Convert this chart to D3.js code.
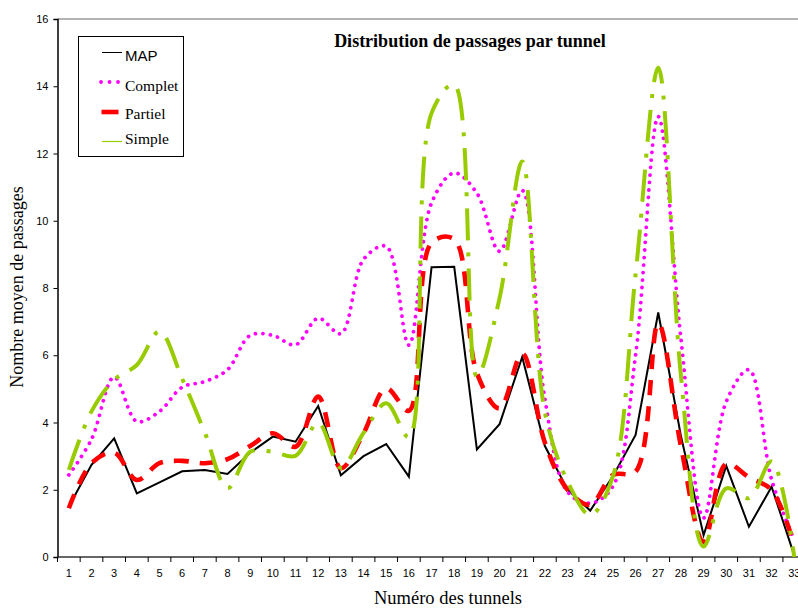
<!DOCTYPE html>
<html><head><meta charset="utf-8">
<script src="https://cdn.jsdelivr.net/npm/d3@7"></script>
<style>
html,body{margin:0;padding:0;background:#fff;}
svg{display:block;}
.tick text{font-family:"Liberation Sans",Arial,sans-serif;font-size:11px;fill:#000;}
</style></head>
<body><svg id="chart" width="798" height="610"></svg>
<script>
const categories = ["1","2","3","4","5","6","7","8","9","10","11","12","13","14","15","16","17","18","19","20","21","22","23","24","25","26","27","28","29","30","31","32","33"];
const mapValues = [1.5,2.74,3.53,1.89,2.22,2.55,2.59,2.47,3.1,3.58,3.43,4.49,2.43,3.0,3.36,2.39,8.62,8.63,3.2,3.95,5.95,3.3,2.0,1.38,2.4,3.63,7.27,3.6,0.65,2.71,0.9,2.09,0.05];
const completValues = [2.44,3.5,5.35,4.03,4.33,5.05,5.22,5.57,6.59,6.59,6.31,7.1,6.64,8.85,9.24,6.3,10.53,11.42,10.82,9.09,10.9,4.7,1.94,1.6,2.1,6.0,13.1,6.5,1.16,4.62,5.57,2.3,0.5];
const partielValues = [1.45,2.79,3.1,2.29,2.79,2.86,2.79,2.91,3.3,3.68,3.28,4.77,2.64,3.68,5.02,4.35,9.35,9.45,5.47,4.42,6.05,3.4,2.0,1.55,2.44,2.54,6.95,3.3,0.45,2.77,2.37,1.99,0.35];
const simpleValues = [2.59,4.33,5.27,5.71,6.71,5.3,3.7,2.04,3.13,3.13,3.01,4.0,2.65,3.69,4.57,3.56,13.2,14.05,5.37,7.7,11.76,4.3,2.25,1.25,2.4,8.4,14.55,5.4,0.31,2.04,1.75,2.84,0.0];
const yTicks = [0,2,4,6,8,10,12,14,16];
const seriesNames = ["MAP","Complet","Partiel","Simple"];

const svg = d3.select("#chart");
const pLeft = 57.5, pRight = 805.6, pTop = 19, pBottom = 557;
const x = d3.scaleBand().domain(categories).range([pLeft, pRight]).padding(0);
const y = d3.scaleLinear().domain([0,16]).range([pBottom, pTop]);
const cx = c => x(c) + x.bandwidth()/2;

svg.append("defs").append("clipPath").attr("id","plotclip")
  .append("rect").attr("x",pLeft).attr("y",pTop-2).attr("width",pRight-pLeft).attr("height",pBottom-pTop+2);

svg.append("line").attr("x1",pLeft).attr("x2",798).attr("y1",y(16)).attr("y2",y(16))
  .attr("stroke","#9a9a9a").attr("stroke-width",1.5);

const yAxis = svg.append("g").attr("transform",`translate(${pLeft},0)`)
  .call(d3.axisLeft(y).tickValues(yTicks).tickSize(4).tickPadding(5).tickFormat(d3.format("d")));
yAxis.select(".domain").attr("stroke","#000").attr("stroke-width",1.5);
yAxis.selectAll(".tick line").attr("stroke","#000");

const xAxis = svg.append("g").attr("transform",`translate(0,${pBottom})`)
  .call(d3.axisBottom(x).tickSize(0).tickPadding(12));
xAxis.select(".domain").remove();
svg.append("line").attr("x1",pLeft).attr("x2",798).attr("y1",pBottom).attr("y2",pBottom)
  .attr("stroke","#333").attr("stroke-width",1.5);
svg.append("g").selectAll("line").data(categories).join("line")
  .attr("x1",d=>x(d)).attr("x2",d=>x(d)).attr("y1",pBottom).attr("y2",pBottom+5)
  .attr("stroke","#000").attr("stroke-width",1);

const plot = svg.append("g").attr("clip-path","url(#plotclip)");
const straight = d3.line().x((d,i)=>cx(categories[i])).y(d=>y(d));
const smooth = d3.line().x((d,i)=>cx(categories[i])).y(d=>y(d)).curve(d3.curveCatmullRom.alpha(0.5));

plot.append("path").attr("d",straight(mapValues)).attr("fill","none")
  .attr("stroke","#000").attr("stroke-width",2).attr("stroke-linejoin","miter");
plot.append("path").attr("d",smooth(completValues)).attr("fill","none")
  .attr("stroke","#ff00ff").attr("stroke-width",3.8).attr("stroke-linecap","round")
  .attr("stroke-dasharray","0.01 7.5");
plot.append("path").attr("d",smooth(partielValues)).attr("fill","none")
  .attr("stroke","#ff0000").attr("stroke-width",4.6).attr("stroke-dasharray","15 11");
plot.append("path").attr("d",smooth(simpleValues)).attr("fill","none")
  .attr("stroke","#99cc00").attr("stroke-width",4).attr("stroke-dasharray","32 12 4 12");

svg.append("text").attr("x",470).attr("y",47).attr("text-anchor","middle")
  .attr("font-family","'Liberation Serif','Times New Roman',serif").attr("font-weight","bold")
  .attr("font-size",18).text("Distribution de passages par tunnel");

svg.append("text").attr("x",448).attr("y",604).attr("text-anchor","middle")
  .attr("font-family","'Liberation Serif','Times New Roman',serif").attr("font-size",18.5)
  .text("Numéro des tunnels");
svg.append("text").attr("transform","translate(23,287) rotate(-90)").attr("text-anchor","middle")
  .attr("font-family","'Liberation Serif','Times New Roman',serif").attr("font-size",18)
  .text("Nombre moyen de passages");

const lg = svg.append("g");
lg.append("rect").attr("x",78.5).attr("y",36.5).attr("width",105).attr("height",120)
  .attr("fill","#fff").attr("stroke","#000").attr("stroke-width",1);
const ly = [52.5, 82, 112, 141.5];
const lb = [61, 91, 119, 144];
lg.append("line").attr("x1",102).attr("x2",122).attr("y1",ly[0]).attr("y2",ly[0]).attr("stroke","#000").attr("stroke-width",1);
lg.append("line").attr("x1",101).attr("x2",119).attr("y1",ly[1]).attr("y2",ly[1])
  .attr("stroke","#ff00ff").attr("stroke-width",3.8).attr("stroke-linecap","round").attr("stroke-dasharray","0.01 8.5");
lg.append("line").attr("x1",101.5).attr("x2",118.5).attr("y1",ly[2]).attr("y2",ly[2]).attr("stroke","#ff0000").attr("stroke-width",4.6);
lg.append("line").attr("x1",102).attr("x2",122).attr("y1",ly[3]).attr("y2",ly[3]).attr("stroke","#99cc00").attr("stroke-width",1.2);
lg.selectAll("text.lt").data(seriesNames).join("text").attr("class","lt")
  .attr("x",125).attr("y",(d,i)=>lb[i])
  .attr("font-family",(d,i)=> i===0 ? "'Liberation Sans',Arial,sans-serif" : "'Liberation Serif','Times New Roman',serif")
  .attr("font-size",(d,i)=> i===0 ? 15 : 15.5).text(d=>d);
</script></body></html>
